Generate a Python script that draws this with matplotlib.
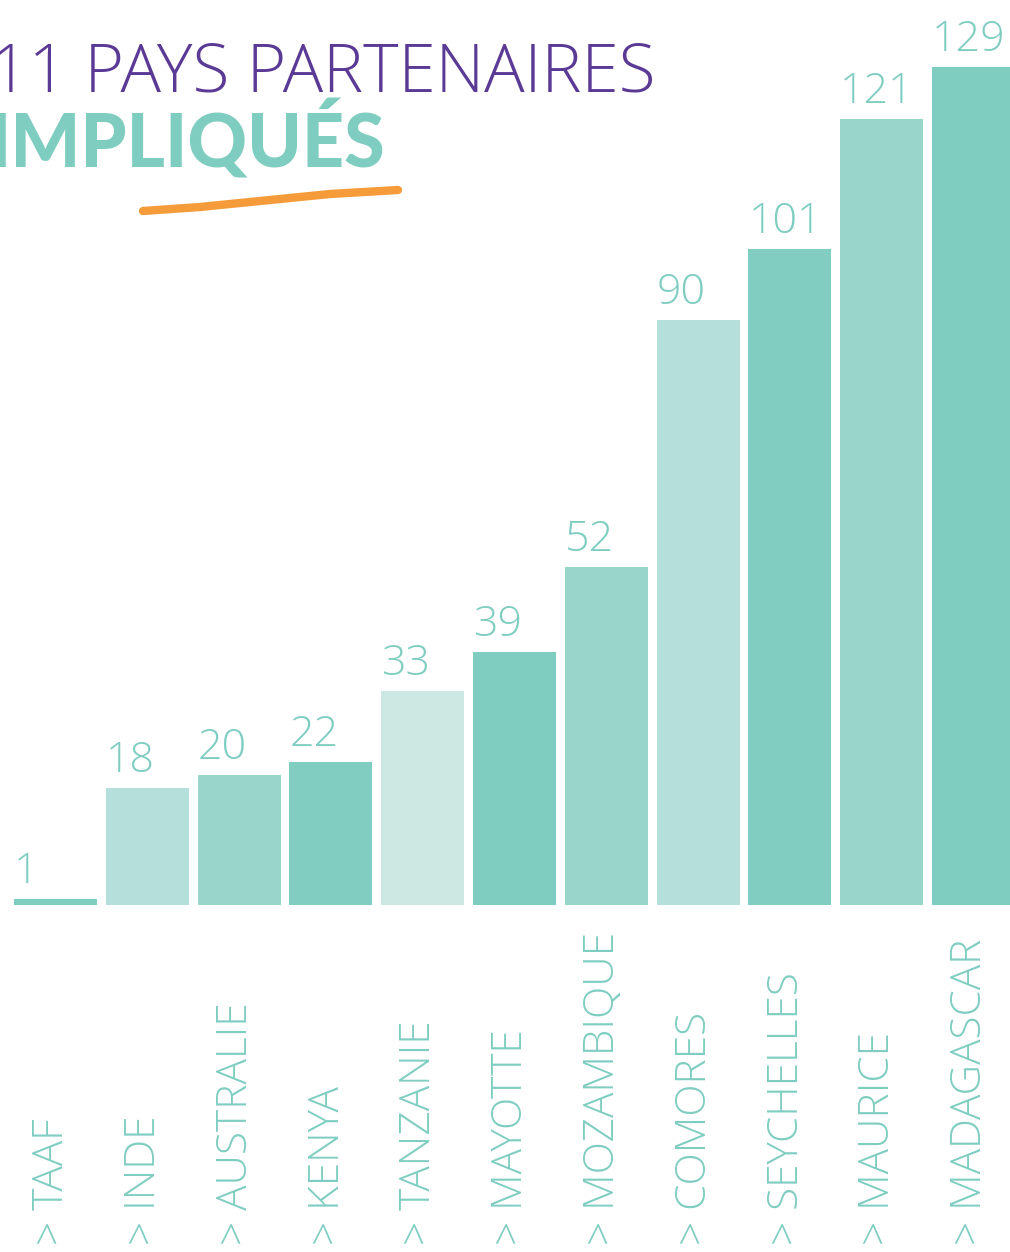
import numpy as np
import matplotlib
matplotlib.use("Agg")
from matplotlib import pyplot as plt

# data
countries = ['TAAF', 'INDE', 'AUSTRALIE', 'KENYA', 'TANZANIE', 'MAYOTTE',
             'MOZAMBIQUE', 'COMORES', 'SEYCHELLES', 'MAURICE', 'MADAGASCAR']
values = [1, 18, 20, 22, 33, 39, 52, 90, 101, 121, 129]

# styles
bar_colors = ['#7FCDC1', '#B5DFDA', '#9AD5CC', '#82CDC2', '#CDE8E3', '#7FCDC1',
              '#9AD5CC', '#B5DFDA', '#82CDC2', '#9AD5CC', '#7FCDC1']
teal = '#7FCDC1'
purple = '#5B3A96'
orange = '#F59B3A'

W, H = 1010, 1252
fig = plt.figure(figsize=(W / 100, H / 100), dpi=100)
ax = fig.add_axes([0, 0, 1, 1])

pitch = 91.8      # px between bars
bw = 0.905        # bar width in data units
px_per_unit = 6.5
base_px = 905     # baseline from top

x = np.arange(len(values))
ax.bar(x, values, width=bw, color=bar_colors)

# limits so the bars land where they are in the picture
x0 = -14 / pitch - bw / 2
x1 = x0 + W / pitch
ax.set_xlim(x0, x1)
ax.set_ylim(-(H - base_px) / px_per_unit, base_px / px_per_unit)
ax.axis('off')

for i, v in enumerate(values):
    ax.annotate(str(v), (i - bw / 2, v), xytext=(0, 11.5), textcoords='offset points',
                ha='left', va='baseline', fontsize=31, color=teal,
                family='Open Sans', fontweight='light')
    ax.text(i - 0.04, -(1245 - base_px) / px_per_unit, '> ' + countries[i],
            rotation=90, ha='center', va='bottom', fontsize=30.5, color=teal,
            family='Open Sans', fontweight='light')

# title
fig.text(-0.01, 1 - 92 / H, '11 PAYS PARTENAIRES', fontsize=48.5, color=purple,
         family='Open Sans', fontweight='light', ha='left', va='baseline')
fig.text(-0.012, 1 - 168 / H, 'IMPLIQUÉS', fontsize=53, color=teal,
         family='Lato', fontweight='black', ha='left', va='baseline')

# orange stroke under the title
sx = np.array([143, 200, 260, 330, 398]) / W
sy = 1 - np.array([211, 207, 201, 194, 190]) / H
fig.add_artist(plt.Line2D(sx, sy, color=orange, linewidth=6,
                          solid_capstyle='round', transform=fig.transFigure))

fig.savefig('out.png', dpi=100)
